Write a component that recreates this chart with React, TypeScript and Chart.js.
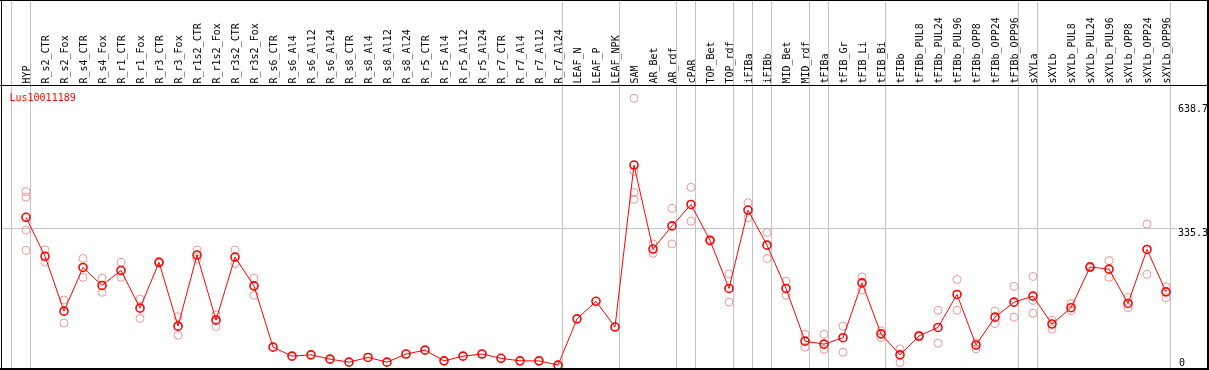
import React, { useEffect, useRef } from "react";
import { Chart, registerables } from "chart.js";

Chart.register(...registerables);

const categories: string[] = [
  "HYP", "R_s2_CTR", "R_s2_Fox", "R_s4_CTR", "R_s4_Fox", "R_r1_CTR", "R_r1_Fox",
  "R_r3_CTR", "R_r3_Fox", "R_r1s2_CTR", "R_r1s2_Fox", "R_r3s2_CTR", "R_r3s2_Fox",
  "R_s6_CTR", "R_s6_Al4", "R_s6_Al12", "R_s6_Al24", "R_s8_CTR", "R_s8_Al4",
  "R_s8_Al12", "R_s8_Al24", "R_r5_CTR", "R_r5_Al4", "R_r5_Al12", "R_r5_Al24",
  "R_r7_CTR", "R_r7_Al4", "R_r7_Al12", "R_r7_Al24", "LEAF_N", "LEAF_P", "LEAF_NPK",
  "SAM", "AR_Bet", "AR_rdf", "cPAR", "TOP_Bet", "TOP_rdf", "iFIBa", "iFIBb",
  "MID_Bet", "MID_rdf", "tFIBa", "tFIB_Gr", "tFIB_Li", "tFIB_Bi", "tFIBb",
  "tFIBb_PUL8", "tFIBb_PUL24", "tFIBb_PUL96", "tFIBb_OPP8", "tFIBb_OPP24", "tFIBb_OPP96",
  "sXYLa", "sXYLb", "sXYLb_PUL8", "sXYLb_PUL24", "sXYLb_PUL96", "sXYLb_OPP8",
  "sXYLb_OPP24", "sXYLb_OPP96",
];

const means: number[] = [
  361, 270, 142, 244, 202, 237, 149, 256, 107, 273, 121, 268, 201,
  58, 37, 40, 30, 23, 34, 23, 42, 51, 26, 37, 42, 32, 26, 26, 16,
  124, 165, 105,
  483, 287, 341, 391, 307, 195, 378, 296, 195, 72, 65, 80, 208, 89,
  40, 84, 104, 181, 63, 128, 163,
  177, 112, 150, 245, 240, 160, 286, 187,
];

const replicates: number[][] = [
  [421, 408, 331, 284], [285, 256], [168, 114], [265, 221], [219, 186],
  [256, 221], [170, 125], [258, 254], [129, 86], [285, 264], [133, 106],
  [285, 253], [219, 179],
  [], [], [], [], [], [], [], [], [], [], [], [], [], [], [], [],
  [], [], [],
  [638.7, 468, 419, 403], [299, 277], [382, 299], [431, 352], [310, 305],
  [229, 163], [395, 360], [326, 265], [212, 179], [88, 58], [88, 53],
  [107, 46], [222, 191], [96, 80],
  [54, 22], [86, 82], [144, 67], [216, 144], [68, 54], [142, 113], [200, 128],
  [223, 167, 137], [121, 100], [160, 143], [247, 243], [260, 221], [174, 150],
  [345, 228], [199, 173],
];

const separatorsAfter: number[] = [-1, 0, 28, 31, 34, 35, 37, 38, 39, 41, 42, 45, 52, 53, 60];
const geneName = "Lus10011189";
const yTickLabels: string[] = ["638.7", "335.3", "0"];
const yGridValue = 335.3;

const W = 1209;
const H = 370;
const FONT = '10px "DejaVu Sans Mono", monospace';

const decorPlugin = {
  id: "decor",
  beforeDatasetsDraw(chart: any) {
    const { ctx, scales } = chart;
    const xs = scales.x;
    const ys = scales.y;
    ctx.save();
    ctx.strokeStyle = "#c4c4c4";
    ctx.lineWidth = 1;
    const gy = Math.floor(ys.getPixelForValue(yGridValue)) + 0.5;
    ctx.beginPath();
    ctx.moveTo(1, gy);
    ctx.lineTo(xs.getPixelForValue(categories.length - 1 + 0.58), gy);
    ctx.stroke();
    for (const s of separatorsAfter) {
      const px = Math.floor(xs.getPixelForValue(s + 0.25)) + 0.5;
      ctx.beginPath();
      ctx.moveTo(px, 0);
      ctx.lineTo(px, H - 1);
      ctx.stroke();
    }
    ctx.restore();
  },
  afterDraw(chart: any) {
    const { ctx, scales, chartArea } = chart;
    const xs = scales.x;
    const ys = scales.y;
    ctx.save();
    // frame
    ctx.fillStyle = "#000";
    ctx.fillRect(0, 0, W, 1);
    ctx.fillRect(1, 0, 1, H);
    ctx.fillRect(W - 2, 0, 2, H);
    ctx.fillRect(0, H - 2, W, 2);
    ctx.fillRect(0, chartArea.top, W, 1);
    // header labels
    ctx.font = FONT;
    ctx.textAlign = "left";
    ctx.textBaseline = "alphabetic";
    ctx.fillStyle = "#000";
    categories.forEach((c, i) => {
      const px = xs.getPixelForValue(i);
      ctx.save();
      ctx.translate(px + 4, chartArea.top - 1.5);
      ctx.rotate(-Math.PI / 2);
      ctx.fillText(c, 0, 0);
      ctx.restore();
    });
    // gene name
    ctx.fillStyle = "#ff0000";
    ctx.fillText(geneName, 9.5, chartArea.top + 16);
    // y labels
    ctx.fillStyle = "#000";
    const lx = xs.getPixelForValue(categories.length - 1 + 0.63);
    ctx.fillText(yTickLabels[0], lx, chartArea.top + 26.5);
    ctx.fillText(yTickLabels[1], lx, ys.getPixelForValue(yGridValue) + 8);
    ctx.fillText(yTickLabels[2], lx + 1, chartArea.bottom - 3.5);
    ctx.restore();
  },
};

export default function App() {
  const canvasRef = useRef<HTMLCanvasElement | null>(null);

  useEffect(() => {
    const canvas = canvasRef.current;
    if (!canvas) return;
    const meanPoints = means.map((v, i) => ({ x: i, y: v }));
    const repPoints = replicates.flatMap((arr, i) => arr.map((v) => ({ x: i, y: v })));
    const xMin = -26 / 19;
    const xMax = xMin + W / 19;
    const chart = new Chart(canvas, {
      type: "scatter",
      data: {
        datasets: [
          {
            label: "mean",
            data: meanPoints,
            showLine: true,
            borderColor: "#ff0000",
            borderWidth: 1,
            pointRadius: 4,
            pointBorderWidth: 1.6,
            pointBorderColor: "#ff0000",
            pointBackgroundColor: "rgba(0,0,0,0)",
            order: 1,
            clip: false,
          } as any,
          {
            label: "replicates",
            data: repPoints,
            showLine: false,
            pointRadius: 4,
            pointBorderWidth: 1,
            pointBorderColor: "rgb(240,150,150)",
            pointBackgroundColor: "rgba(0,0,0,0)",
            order: 2,
            clip: false,
          } as any,
        ],
      },
      options: {
        animation: false,
        responsive: false,
        devicePixelRatio: 1,
        layout: { autoPadding: false, padding: { top: 85, bottom: 1, left: 0, right: 0 } },
        scales: {
          x: { type: "linear", min: xMin, max: xMax, display: false },
          y: { type: "linear", min: 7, max: 669.8, display: false },
        },
        plugins: {
          legend: { display: false },
          tooltip: { enabled: false },
        },
      },
      plugins: [decorPlugin],
    });
    return () => chart.destroy();
  }, []);

  return (
    <div style={{ position: "fixed", left: 0, top: 0, width: W, height: H, background: "#fff" }}>
      <canvas ref={canvasRef} width={W} height={H} style={{ display: "block", width: W, height: H }} />
    </div>
  );
}
